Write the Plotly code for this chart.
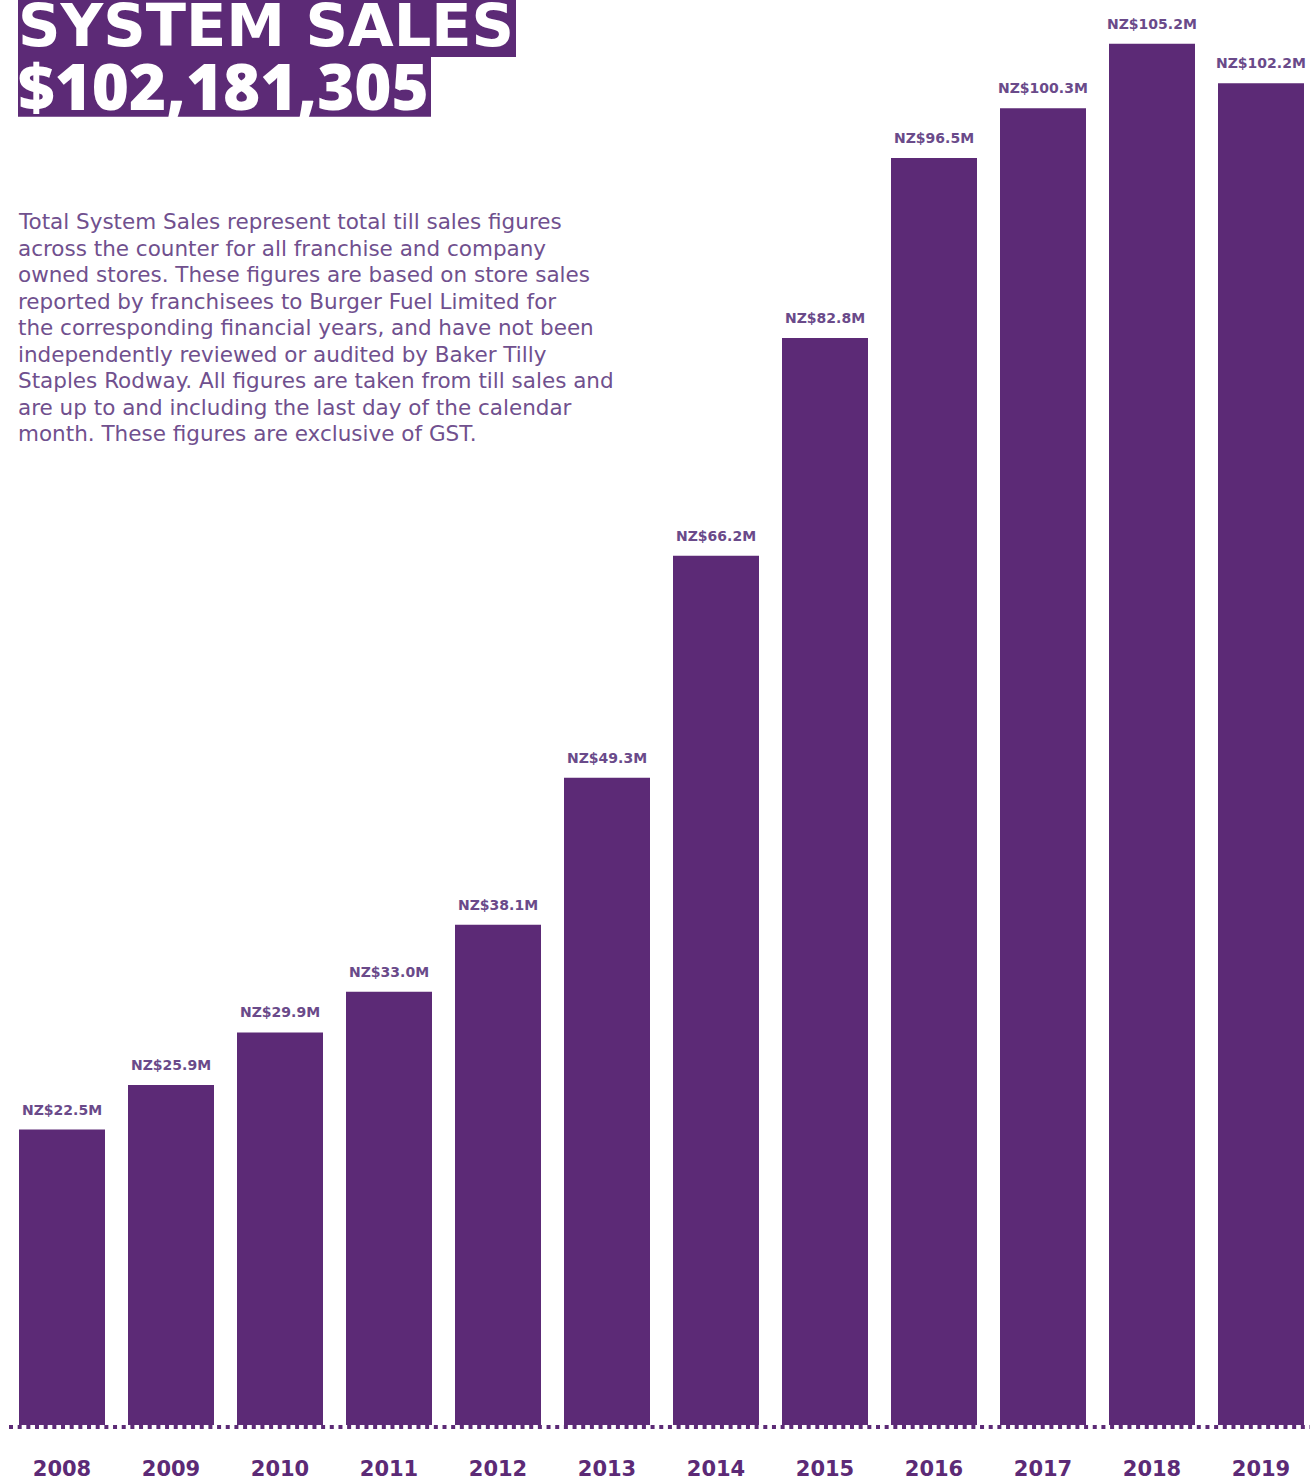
import plotly.graph_objects as go

years = ["2008", "2009", "2010", "2011", "2012", "2013", "2014", "2015", "2016", "2017", "2018", "2019"]
sales = [22.5, 25.9, 29.9, 33.0, 38.1, 49.3, 66.2, 82.8, 96.5, 100.3, 105.2, 102.2]
labels = ["NZ$22.5M", "NZ$25.9M", "NZ$29.9M", "NZ$33.0M", "NZ$38.1M", "NZ$49.3M",
          "NZ$66.2M", "NZ$82.8M", "NZ$96.5M", "NZ$100.3M", "NZ$105.2M", "NZ$102.2M"]
title_line1 = "SYSTEM SALES"
title_line2 = "$102,181,305"
paragraph = [
    "Total System Sales represent total till sales figures",
    "across the counter for all franchise and company",
    "owned stores. These figures are based on store sales",
    "reported by franchisees to Burger Fuel Limited for",
    "the corresponding financial years, and have not been",
    "independently reviewed or audited by Baker Tilly",
    "Staples Rodway. All figures are taken from till sales and",
    "are up to and including the last day of the calendar",
    "month. These figures are exclusive of GST.",
]

PURPLE = "#5c2a76"
LABEL_PURPLE = "#6a4a8a"
TEXT_PURPLE = "#70508e"

W, H = 1310, 1481
BASE = 1428          # pixel row of the bars' baseline
L, R, T, B = 19, 6, 0, 36
PW, PH = W - L - R, H - T - B
SCALE = 13.157       # pixels per NZ$M


def px_x(px):
    return (px - L) / PW


def px_y(py):
    return (H - B - py) / PH


xs = list(range(len(years)))
bw = 86 / 109.0

fig = go.Figure()
fig.add_trace(go.Bar(
    x=xs, y=sales, width=bw, marker=dict(color=PURPLE, line=dict(width=0)),
    hoverinfo="skip", showlegend=False,
))

for i, (v, lab) in enumerate(zip(sales, labels)):
    fig.add_annotation(x=i, y=v, xref="x", yref="y", text=lab, showarrow=False,
                       yanchor="bottom", yshift=10,
                       font=dict(family="DejaVu Sans", size=14, color=LABEL_PURPLE, weight="bold"))

# dotted baseline
fig.add_shape(type="line", xref="paper", yref="y", x0=px_x(9), x1=px_x(1312),
              y0=-2 / SCALE, y1=-2 / SCALE,
              line=dict(color=PURPLE, width=4, dash="4px,4.67px"), layer="above")

# title boxes
fig.add_shape(type="rect", xref="paper", yref="paper", x0=px_x(18), x1=px_x(516),
              y0=px_y(57), y1=px_y(-5), fillcolor=PURPLE, line=dict(width=0), layer="above")
fig.add_shape(type="rect", xref="paper", yref="paper", x0=px_x(18), x1=px_x(431),
              y0=px_y(117), y1=px_y(56), fillcolor=PURPLE, line=dict(width=0), layer="above")
title_text = (
    "<span style=\"font-family:'DejaVu Sans';font-size:59px;font-weight:bold\">" + title_line1 + "</span><br>"
    "<span style=\"font-family:'Open Sans';font-size:63.5px;font-weight:800\">" + title_line2 + "</span>"
)
fig.add_annotation(xref="paper", yref="paper", x=px_x(16), y=px_y(60), text=title_text,
                   showarrow=False, xanchor="left", yanchor="middle", align="left",
                   font=dict(family="DejaVu Sans", size=49, color="white"))

for i, line in enumerate(paragraph):
    fig.add_annotation(xref="paper", yref="paper", x=px_x(16), y=px_y(222 + i * 26.6), text=line,
                       showarrow=False, xanchor="left", yanchor="middle", align="left",
                       font=dict(family="DejaVu Sans", size=21.5, color=TEXT_PURPLE))

ymin = -(H - B - BASE) / SCALE
ymax = BASE / SCALE
fig.update_layout(
    width=W, height=H, autosize=False,
    margin=dict(l=L, r=R, t=T, b=B, pad=0),
    paper_bgcolor="white", plot_bgcolor="white",
    bargap=0.21,
    xaxis=dict(range=[-bw / 2, len(years) - 1 + bw / 2], tickmode="array", tickvals=xs, ticktext=years,
               showgrid=False, zeroline=False, showline=False, ticks="",
               ticklabelstandoff=12,
               tickfont=dict(family="DejaVu Sans", size=21, color=PURPLE, weight="bold")),
    yaxis=dict(range=[ymin, ymax], showgrid=False, zeroline=False, showline=False,
               showticklabels=False, ticks=""),
)

fig.write_html("out.html", config={"displayModeBar": False},
               post_script="document.body.style.margin='0px';")
